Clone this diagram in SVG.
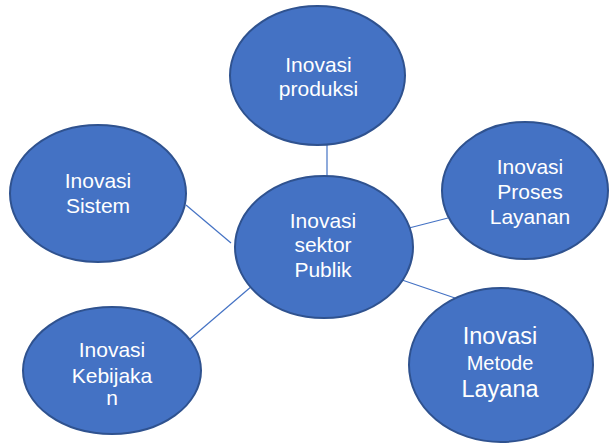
<svg xmlns="http://www.w3.org/2000/svg" width="610" height="443" viewBox="0 0 610 443">
  <style>
    .node { fill: #4472C4; stroke: #2F528F; stroke-width: 2; }
    .link { stroke: #4472C4; stroke-width: 1.2; fill: none; }
    .label { fill: #FFFFFF; font-family: "Liberation Sans", Arial, sans-serif; font-size: 21px; text-anchor: middle; }
  </style>
  <rect width="610" height="443" fill="#FFFFFF"/>
  <g id="connectors">
    <line class="link" x1="327" y1="145" x2="327" y2="177"/>
    <line class="link" x1="409" y1="228" x2="448" y2="218"/>
    <line class="link" x1="402" y1="280" x2="455" y2="298"/>
    <line class="link" x1="186" y1="205" x2="231" y2="243"/>
    <line class="link" x1="190" y1="339" x2="252" y2="286"/>
  </g>
  <g id="node-produksi">
    <ellipse class="node" cx="317.5" cy="75.5" rx="87.5" ry="69.5"/>
    <text class="label" x="318.5" y="72">Inovasi</text>
    <text class="label" x="318.5" y="96">produksi</text>
  </g>
  <g id="node-sistem">
    <ellipse class="node" cx="98" cy="193.5" rx="88" ry="68.5"/>
    <text class="label" x="98" y="188">Inovasi</text>
    <text class="label" x="98" y="213">Sistem</text>
  </g>
  <g id="node-publik">
    <ellipse class="node" cx="324" cy="247" rx="89" ry="71"/>
    <text class="label" x="323" y="228">Inovasi</text>
    <text class="label" x="323" y="252">sektor</text>
    <text class="label" x="323" y="277">Publik</text>
  </g>
  <g id="node-proses">
    <ellipse class="node" cx="525" cy="190.5" rx="83" ry="68.5"/>
    <text class="label" x="530" y="174">Inovasi</text>
    <text class="label" x="530" y="199">Proses</text>
    <text class="label" x="530" y="224">Layanan</text>
  </g>
  <g id="node-kebijakan">
    <ellipse class="node" cx="112" cy="370.5" rx="89" ry="63.5"/>
    <text class="label" x="112" y="357">Inovasi</text>
    <text class="label" x="112" y="383">Kebijaka</text>
    <text class="label" x="112" y="405">n</text>
  </g>
  <g id="node-metode">
    <ellipse class="node" cx="501" cy="365" rx="92" ry="77"/>
    <text class="label" x="500" y="344" style="font-size:23.5px">Inovasi</text>
    <text class="label" x="500" y="370" style="font-size:20px">Metode</text>
    <text class="label" x="500" y="397" style="font-size:23.5px">Layana</text>
  </g>
</svg>
